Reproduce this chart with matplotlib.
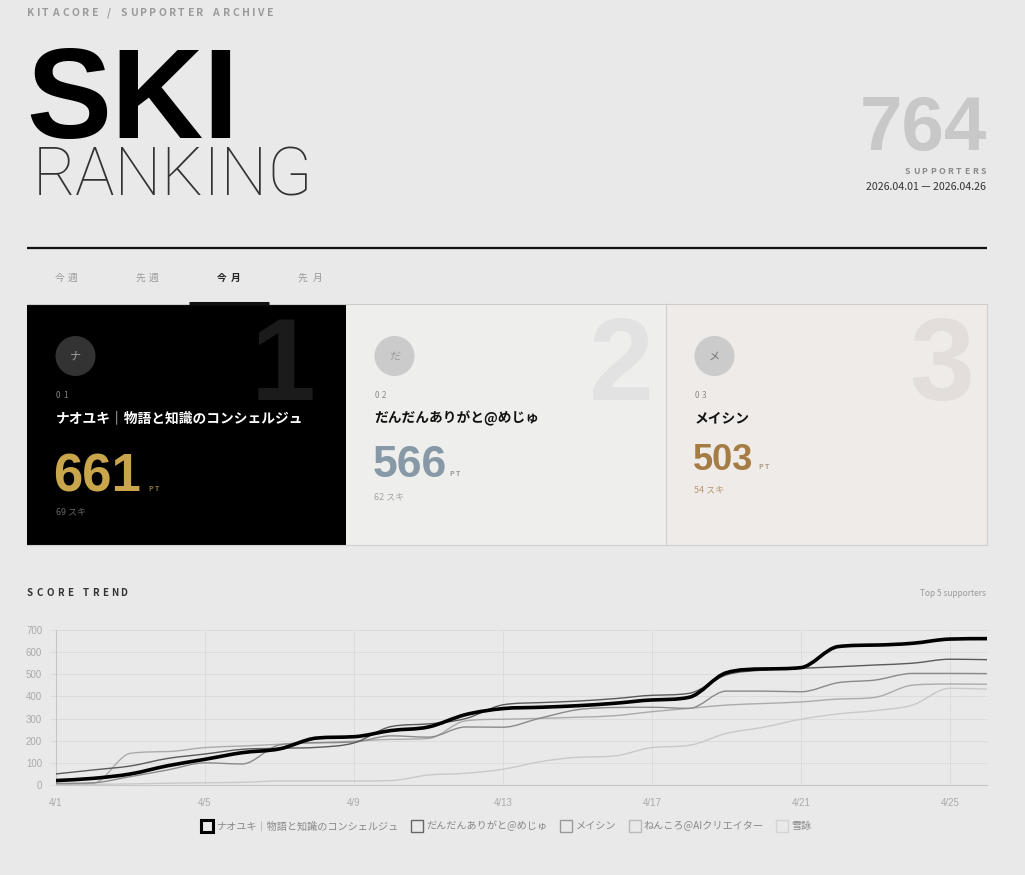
import matplotlib
matplotlib.use('Agg')
import matplotlib.pyplot as plt
import numpy as np
from matplotlib.font_manager import FontProperties
from matplotlib.patches import Rectangle, Circle, PathPatch
from matplotlib.path import Path
from matplotlib.textpath import TextPath
from matplotlib.lines import Line2D

W, H, DPI = 1025, 875, 100
BG = '#e9e9e9'
JP = ['Noto Sans CJK JP', 'DejaVu Sans']
LAT = ['Liberation Sans', 'DejaVu Sans']
THIN = ['Roboto', 'Liberation Sans', 'DejaVu Sans']

# ---- data ----
days = [f'4/{d}' for d in range(1, 27)]
names = ['ナオユキ｜物語と知識のコンシェルジュ', 'だんだんありがと@めじゅ', 'メイシン',
         'ねんころ@AIクリエイター', '雪詠']
naoyuki = [20, 30, 50, 87, 116, 146, 163, 212, 218, 246, 262, 318, 345,
           351, 358, 369, 384, 396, 507, 524, 530, 625, 632, 640, 659, 661]
dandan = [50, 68, 86, 120, 140, 161, 166, 170, 190, 264, 276, 300, 362,
          372, 379, 390, 405, 414, 497, 519, 527, 534, 542, 550, 568, 566]
meishin = [7, 10, 38, 68, 100, 95, 181, 191, 194, 222, 216, 262, 261,
           302, 340, 350, 351, 346, 424, 424, 421, 462, 474, 504, 504, 503]
nenkoro = [5, 8, 143, 151, 169, 176, 184, 191, 198, 206, 210, 290, 297,
           301, 306, 313, 331, 346, 361, 368, 375, 388, 396, 451, 456, 455]
yukiei = [0, 3, 5, 8, 10, 12, 18, 18, 18, 20, 45, 53, 71,
          105, 125, 131, 169, 179, 233, 261, 297, 321, 336, 361, 437, 433]
series = [naoyuki, dandan, meishin, nenkoro, yukiei]

ranks = ['01', '02', '03']
initials = ['ナ', 'だ', 'メ']
points = [661, 566, 503]
likes = [69, 62, 54]
total_supporters = 764
period = '2026.04.01 — 2026.04.26'
tabs = ['今週', '先週', '今月', '先月']

# ---- styles ----
line_colors = ['#000000', '#5a5a5a', '#8a8a8a', '#ababab', '#c9c9c9']
line_widths = [2.6, 1.0, 1.0, 1.0, 1.0]
box_colors = ['#000000', '#666666', '#9a9a9a', '#bbbbbb', '#d4d4d4']

fig = plt.figure(figsize=(W / DPI, H / DPI), dpi=DPI, facecolor=BG)
bg = fig.add_axes([0, 0, 1, 1])
bg.set_xlim(0, W)
bg.set_ylim(H, 0)
bg.axis('off')


def spaced(x, y, s, size, width, ha='left', family=JP, weight='normal', color='#000', z=3):
    # letter-spaced label: glyph ink measured from its outline, spread over `width` px
    fp = FontProperties(family=family, weight=weight, size=size)
    px = size * DPI / 72
    ws = [None if ch == ' ' else TextPath((0, 0), ch, size=px, prop=fp).get_extents().width
          for ch in s]
    sp = px * 0.28
    ink = sum(sp if w is None else w for w in ws)
    gap = max((width - ink) / (len(s) - 1), 0.5) if len(s) > 1 else 0
    if ha == 'right':
        x = x - width
    elif ha == 'center':
        x = x - width / 2
    for ch, w in zip(s, ws):
        if w is None:
            x += sp + gap
            continue
        bg.text(x, y, ch, fontproperties=fp, color=color, va='baseline', ha='left', zorder=z)
        x += w + gap


# ---- header ----
spaced(27, 16, 'KITACORE / SUPPORTER ARCHIVE', 7.5, 245, weight='bold', color='#9a9a9a')
bg.text(26, 138, 'SKI', family=LAT, weight='bold', fontsize=92, color='#000000',
        ha='left', va='baseline')
bg.text(33, 195, 'RANKING', family=THIN, weight='light', fontsize=47.5, color='#333333',
        ha='left', va='baseline')
bg.text(987, 150, str(total_supporters), family=LAT, weight='bold', fontsize=55,
        color='#c8c8c8', ha='right', va='baseline')
spaced(985, 174, 'SUPPORTERS', 6.3, 80, ha='right', weight='bold', color='#8a8a8a')
bg.text(986, 190, period, family=JP, fontsize=7.6, color='#333333', ha='right', va='baseline')

bg.plot([27, 987], [248, 248], color='#111111', lw=1.6, solid_capstyle='butt')

tab_x = [66, 147, 228, 309]
for i, (t, tx) in enumerate(zip(tabs, tab_x)):
    sel = i == 2
    spaced(tx, 281, t, 7, 22, ha='center', weight='bold' if sel else 'normal',
           color='#222222' if sel else '#9a9a9a')
bg.plot([27, 987], [303.5, 303.5], color='#cccccc', lw=0.8)
bg.plot([189, 269], [302.5, 302.5], color='#111111', lw=2.2, solid_capstyle='butt')

# ---- podium cards ----
card_x = [27, 346, 666]
card_w = [319, 320, 321]
card_face = ['#000000', '#eeeeed', '#efebe8']
avatar_face = ['#333333', '#cbcbcb', '#cbcbcb']
avatar_text = ['#a0a0a0', '#9a9a9a', '#777777']
rank_color = ['#8a8a8a', '#8a8a8a', '#8a8a8a']
name_color = ['#ffffff', '#111111', '#111111']
num_color = ['#c9a54b', '#8798a6', '#a67c45']
num_size = [38, 32, 26]
num_base = [492, 477, 470]
pt_dx = [121, 103, 92]
pt_color = ['#8a7440', '#9a9a9a', '#b39a7d']
like_color = ['#666666', '#a5a5a5', '#b8956e']
big_color = ['#1b1b1b', '#e2e2e2', '#e3dedb']
big_right = [316, 654, 974]

for i in range(3):
    cx = card_x[i]
    bg.add_patch(Rectangle((cx, 304), card_w[i], 241, facecolor=card_face[i],
                           edgecolor='none', zorder=1))
    bg.text(big_right[i], 400, str(i + 1), family=LAT, weight='bold', fontsize=84,
            color=big_color[i], ha='right', va='baseline', zorder=2)
    bg.add_patch(Circle((cx + 48.5, 356), 20, facecolor=avatar_face[i], edgecolor='none', zorder=3))
    bg.text(cx + 48.5, 357, initials[i], family=JP, fontsize=8, color=avatar_text[i],
            ha='center', va='center', zorder=4)
    tx = cx + 28.5
    spaced(tx, 398, ranks[i], 5.8, 11, color=rank_color[i])
    bg.text(tx, 422, names[i], family=JP, weight='bold', fontsize=9.9, color=name_color[i],
            va='baseline', ha='left', zorder=3)
    bg.text(tx - 2, num_base[i], str(points[i]), family=LAT, weight='bold',
            fontsize=num_size[i], color=num_color[i], va='baseline', ha='left', zorder=3)
    spaced(cx + pt_dx[i], num_base[i] - 1, 'PT', 5, 11, weight='bold', color=pt_color[i])
    bg.text(tx, num_base[i] + 22, f'{likes[i]} スキ', family=JP, fontsize=6.5,
            color=like_color[i], va='baseline', ha='left', zorder=3)

for xv in [666, 987]:
    bg.plot([xv, xv], [304, 545], color='#cfcfcf', lw=0.8, zorder=2)
bg.plot([27, 987], [545, 545], color='#cfcfcf', lw=0.8, zorder=2)

# ---- score trend ----
spaced(27, 596, 'SCORE TREND', 7, 99, weight='bold', color='#333333')
bg.text(986, 596, 'Top 5 supporters', family=JP, fontsize=6, color='#9a9a9a',
        ha='right', va='baseline')

ax = fig.add_axes([56 / W, 1 - 785 / H, 931 / W, 155 / H])
ax.patch.set_visible(False)


def smooth_path(ys):
    # monotone cubic bezier through the daily values (chart.js style smoothing)
    xs = np.arange(len(ys), dtype=float)
    ys = np.asarray(ys, dtype=float)
    d = np.diff(ys)
    n = len(ys)
    m = np.zeros(n)
    m[0], m[-1] = d[0], d[-1]
    for i in range(1, n - 1):
        m[i] = 0 if d[i - 1] * d[i] <= 0 else (d[i - 1] + d[i]) / 2
    for i in range(n - 1):
        if d[i] == 0:
            m[i] = m[i + 1] = 0
            continue
        a, b = m[i] / d[i], m[i + 1] / d[i]
        s = a * a + b * b
        if s > 9:
            t = 3 / np.sqrt(s)
            m[i], m[i + 1] = t * a * d[i], t * b * d[i]
    verts = [(xs[0], ys[0])]
    codes = [Path.MOVETO]
    for i in range(n - 1):
        h = 1 / 3
        verts += [(xs[i] + h, ys[i] + m[i] * h), (xs[i + 1] - h, ys[i + 1] - m[i + 1] * h),
                  (xs[i + 1], ys[i + 1])]
        codes += [Path.CURVE4] * 3
    return Path(verts, codes)


for k in range(len(series) - 1, -1, -1):
    ax.add_patch(PathPatch(smooth_path(series[k]), fill=False, edgecolor=line_colors[k],
                           lw=line_widths[k], capstyle='round', joinstyle='round',
                           zorder=3 + (len(series) - k)))

ax.set_xlim(0, len(days) - 1)
ax.set_ylim(0, 700)
ax.set_yticks(range(0, 701, 100))
ax.set_xticks(range(0, len(days), 4))
ax.set_xticklabels(days[::4])
ax.grid(True, color='#dcdcdc', lw=0.7)
ax.set_axisbelow(True)
for s in ['top', 'right']:
    ax.spines[s].set_visible(False)
for s in ['left', 'bottom']:
    ax.spines[s].set_color('#c6c6c6')
    ax.spines[s].set_linewidth(0.8)
ax.tick_params(axis='y', length=4, color='#dcdcdc', pad=6, labelsize=7, labelcolor='#aaaaaa')
ax.tick_params(axis='x', length=0, pad=9, labelsize=7, labelcolor='#aaaaaa')
for lab in ax.get_xticklabels() + ax.get_yticklabels():
    lab.set_family(LAT)

handles = [Line2D([], [], ls='none', marker='s', markersize=9, markerfacecolor='none',
                  markeredgecolor=box_colors[k], markeredgewidth=2.2 if k == 0 else 1.0)
           for k in range(len(series))]
fig.legend(handles, names, loc='center', bbox_to_anchor=(507 / W, 1 - 826 / H), ncol=5,
           frameon=False, handlelength=1.0, handletextpad=0.4, columnspacing=1.35,
           labelcolor='#888888', prop=FontProperties(family=JP, size=7.3))

fig.savefig('out.png', dpi=DPI, facecolor=BG)
